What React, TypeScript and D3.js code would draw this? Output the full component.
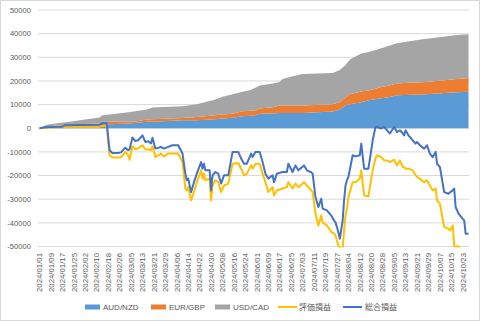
import React from 'react';
import * as d3 from 'd3';

// ---- Data ----
const areaDates = [
  '2024-01-01','2024-01-05','2024-01-08','2024-01-22','2024-01-29','2024-02-12','2024-02-14','2024-02-19',
  '2024-02-28','2024-03-08','2024-03-16','2024-03-20','2024-04-10','2024-04-20','2024-05-03','2024-05-08',
  '2024-05-15','2024-05-22','2024-05-27','2024-05-31','2024-06-03','2024-06-12','2024-06-17','2024-06-19',
  '2024-06-24','2024-07-03','2024-07-24','2024-07-29','2024-08-02','2024-08-05','2024-08-13','2024-08-19',
  '2024-08-27','2024-09-01','2024-09-07','2024-09-18','2024-09-25','2024-10-05','2024-10-19','2024-10-27'
];
const audnzd = [0,0,100,200,200,400,1300,1700,1900,2200,2700,2700,3400,3400,3800,4100,4400,5100,5300,5500,6100,6200,6500,6500,6500,6500,7100,7900,9700,10200,11000,11900,12700,13100,14000,14200,14300,14700,15200,15400];
const eurgbp = [0,400,750,1400,1500,1600,1400,1000,800,700,1000,1100,900,1400,1700,1700,1700,2100,2100,2100,2200,2700,3100,3100,3100,3100,3100,3200,3300,4200,4500,4200,4700,4900,4900,5100,5100,5300,5600,5800];
const usdcad = [0,900,850,1100,1700,2500,2800,3100,3800,4300,4200,5000,5000,5400,6700,7500,8300,8200,8700,9500,9800,10000,10000,11200,12100,13300,13200,13500,13700,14700,16100,16200,16400,16800,17000,17700,18200,18400,18600,18500];

const lineDates = [
  '2024-01-01','2024-01-05','2024-01-08','2024-01-17','2024-01-19','2024-02-12','2024-02-14','2024-02-17','2024-02-19','2024-02-21',
  '2024-02-25','2024-02-27','2024-03-01','2024-03-03','2024-03-04','2024-03-06','2024-03-08','2024-03-10','2024-03-13','2024-03-15',
  '2024-03-17','2024-03-19','2024-03-20','2024-03-22','2024-03-26','2024-03-28','2024-03-31','2024-04-03','2024-04-07','2024-04-10',
  '2024-04-12','2024-04-13','2024-04-14','2024-04-16','2024-04-18','2024-04-20','2024-04-23','2024-04-24','2024-04-25','2024-04-26',
  '2024-04-29','2024-04-30','2024-05-01','2024-05-03','2024-05-05','2024-05-07','2024-05-09','2024-05-12','2024-05-15','2024-05-19',
  '2024-05-21','2024-05-23','2024-05-25','2024-05-28','2024-05-29','2024-05-31','2024-06-03','2024-06-05','2024-06-07','2024-06-09',
  '2024-06-12','2024-06-13','2024-06-15','2024-06-19','2024-06-22','2024-06-23','2024-06-26','2024-06-28','2024-06-30','2024-07-04',
  '2024-07-06','2024-07-09','2024-07-10','2024-07-12','2024-07-14','2024-07-16','2024-07-17','2024-07-20','2024-07-23','2024-07-25',
  '2024-07-26','2024-07-27','2024-07-28','2024-07-29','2024-07-31','2024-08-01','2024-08-02','2024-08-03','2024-08-04','2024-08-07',
  '2024-08-09','2024-08-12','2024-08-13','2024-08-15','2024-08-18','2024-08-20','2024-08-21','2024-08-22','2024-08-23','2024-08-24',
  '2024-08-27','2024-08-29','2024-08-31','2024-09-02','2024-09-05','2024-09-07','2024-09-09','2024-09-11','2024-09-12','2024-09-13',
  '2024-09-15','2024-09-18','2024-09-20','2024-09-21','2024-09-23','2024-09-26','2024-09-28','2024-09-30','2024-10-02','2024-10-04',
  '2024-10-05','2024-10-07','2024-10-10','2024-10-13','2024-10-14','2024-10-16','2024-10-17','2024-10-18','2024-10-20','2024-10-23',
  '2024-10-24','2024-10-25','2024-10-27'
];
const sogo = [
  0,400,550,650,1300,1500,2200,2200,-9300,-10500,
  -10500,-10200,-8200,-9300,-8900,-3900,-5400,-5100,-3000,-5800,
  -5500,-6400,-4000,-8600,-7900,-8600,-7900,-7200,-7200,-10700,
  -19200,-22000,-21300,-27000,-22800,-19200,-14300,-17100,-15000,-17800,
  -17800,-26300,-19900,-18500,-19200,-23400,-19900,-19900,-10000,-10000,
  -12800,-15000,-15000,-10700,-12200,-10000,-10000,-14300,-19200,-21300,
  -19900,-22800,-19200,-18500,-18500,-15000,-18500,-15700,-17800,-15700,
  -17800,-18600,-19200,-29100,-33300,-29800,-34000,-34700,-36900,-39000,
  -39800,-41800,-44100,-46700,-39000,-30500,-24200,-22000,-20600,-11400,
  -11900,-11400,-6500,-17100,-17100,-9300,-5100,-2100,550,550,
  -100,550,-850,-2200,550,-1600,-850,-2100,-3000,-850,
  -3000,-5100,-6500,-5800,-7200,-8600,-7200,-10700,-12200,-10000,
  -15000,-16400,-27000,-27700,-27100,-26300,-25500,-33300,-36100,-38300,
  -39000,-44600,-44600
];
const hyoka = [
  0,200,300,400,600,600,1000,1000,-11400,-12400,
  -12400,-12300,-10000,-11400,-13300,-7600,-8900,-8500,-7200,-9000,
  -8900,-9300,-7600,-12200,-10700,-11900,-10700,-10700,-10700,-14300,
  -25500,-26300,-24900,-30500,-27000,-22800,-17800,-21300,-19200,-22000,
  -21300,-30500,-24200,-22000,-22800,-27000,-24200,-23400,-15000,-14700,
  -17100,-19900,-19200,-15700,-17100,-15000,-15000,-19200,-22800,-27000,
  -24900,-28400,-26300,-25500,-24900,-22800,-25500,-23400,-24900,-22800,
  -24200,-26300,-27000,-36100,-41100,-36900,-39800,-41100,-43900,-44500,
  -45300,-47500,-49600,-50300,-50800,-43200,-36900,-34000,-29100,-22800,
  -22800,-21200,-17800,-28400,-28800,-21300,-17800,-15000,-12700,-11400,
  -12200,-13600,-13600,-14300,-13300,-15700,-13600,-16400,-16500,-17100,
  -17100,-17800,-19900,-20600,-21300,-22800,-22000,-24200,-26300,-25500,
  -30500,-31900,-41800,-42500,-43200,-41100,-49800,-50000,-49900,-53000,
  -53000,-54000,-54000
];

const yTicks = [50000, 40000, 30000, 20000, 10000, 0, -10000, -20000, -30000, -40000, -50000];
const xTickLabels = [
  '2024/01/01','2024/01/09','2024/01/17','2024/01/25','2024/02/02','2024/02/10','2024/02/18','2024/02/26',
  '2024/03/05','2024/03/13','2024/03/21','2024/03/29','2024/04/06','2024/04/14','2024/04/22','2024/04/30',
  '2024/05/08','2024/05/16','2024/05/24','2024/06/01','2024/06/09','2024/06/17','2024/06/25','2024/07/03',
  '2024/07/11','2024/07/19','2024/07/27','2024/08/04','2024/08/12','2024/08/20','2024/08/28','2024/09/05',
  '2024/09/13','2024/09/21','2024/09/29','2024/10/07','2024/10/15','2024/10/23'
];

const areaKeys = ['AUD/NZD', 'EUR/GBP', 'USD/CAD'];
const areaColors = ['#5B9BD5', '#ED7D31', '#A5A5A5'];
const lineNames = ['評価損益', '総合損益'];
const lineColors = ['#FFC000', '#4472C4'];

// ---- Layout ----
const W = 480, H = 321;
const PL = 38, PR = 469, PT = 10, PB = 246.5;
const FONT = "'Liberation Sans', Arial, 'Noto Sans CJK JP', sans-serif";
const TEXT = '#595959';

const parse = d3.timeParse('%Y-%m-%d');
const parseSlash = d3.timeParse('%Y/%m/%d');

export default function App() {
  const x = d3.scaleTime()
    .domain([parse('2024-01-01') as Date, parse('2024-10-27') as Date])
    .range([39.5, 468.5]);
  const y = d3.scaleLinear().domain([-50000, 50000]).range([PB, PT]);

  const table = areaDates.map((d, i) => ({
    date: parse(d) as Date,
    'AUD/NZD': audnzd[i],
    'EUR/GBP': eurgbp[i],
    'USD/CAD': usdcad[i],
  }));
  const stacked = d3.stack<any>().keys(areaKeys)(table);
  const area = d3.area<any>()
    .x((d) => x(d.data.date))
    .y0((d) => y(d[0]))
    .y1((d) => y(d[1]));

  const lineData = [hyoka, sogo].map((vals) =>
    lineDates.map((d, i) => ({ date: parse(d) as Date, v: vals[i] }))
  );
  const line = d3.line<any>().x((d) => x(d.date)).y((d) => y(d.v));

  const legendY = 307;
  const legendItems = [
    { type: 'rect', color: areaColors[0], label: areaKeys[0], sx: 85, tx: 103 },
    { type: 'rect', color: areaColors[1], label: areaKeys[1], sx: 151, tx: 169 },
    { type: 'rect', color: areaColors[2], label: areaKeys[2], sx: 215, tx: 233 },
    { type: 'line', color: lineColors[0], label: lineNames[0], sx: 278, tx: 299 },
    { type: 'line', color: lineColors[1], label: lineNames[1], sx: 343, tx: 365 },
  ];

  return (
    <svg width={W} height={H} style={{ position: 'absolute', left: 0, top: 0, background: '#fff' }}
      fontFamily={FONT}>
      <defs>
        <clipPath id="plotclip">
          <rect x={PL} y={PT - 2} width={PR - PL} height={PB - PT + 3} />
        </clipPath>
      </defs>
      <rect x={0.5} y={0.5} width={W - 1} height={H - 1} fill="#fff" stroke="#D9D9D9" />
      {yTicks.map((t) => (
        <g key={t}>
          <line x1={PL} x2={PR} y1={y(t)} y2={y(t)} stroke="#D9D9D9" strokeWidth={1} />
          <text x={31} y={y(t)} dy="0.35em" textAnchor="end" fontSize={7.6} fill={TEXT}>{t}</text>
        </g>
      ))}
      {stacked.map((s, i) => (
        <path key={s.key} d={area(s) as string} fill={areaColors[i]} />
      ))}
      <g clipPath="url(#plotclip)">
        {lineData.map((ld, i) => (
          <path key={i} d={line(ld) as string} fill="none" stroke={lineColors[i]} strokeWidth={2}
            strokeLinejoin="round" />
        ))}
      </g>
      {xTickLabels.map((lab) => {
        const xx = x(parseSlash(lab) as Date);
        return (
          <text key={lab} transform={`translate(${xx},253) rotate(-90)`} textAnchor="end" dy="0.35em"
            fontSize={7.8} fill={TEXT}>{lab}</text>
        );
      })}
      {legendItems.map((it) => (
        <g key={it.label}>
          {it.type === 'rect'
            ? <rect x={it.sx} y={legendY - 2.5} width={15} height={5} fill={it.color} />
            : <line x1={it.sx} x2={it.sx + 19} y1={legendY} y2={legendY} stroke={it.color} strokeWidth={2} />}
          <text x={it.tx} y={legendY} dy="0.35em" fontSize={8} fill={TEXT}>{it.label}</text>
        </g>
      ))}
    </svg>
  );
}
